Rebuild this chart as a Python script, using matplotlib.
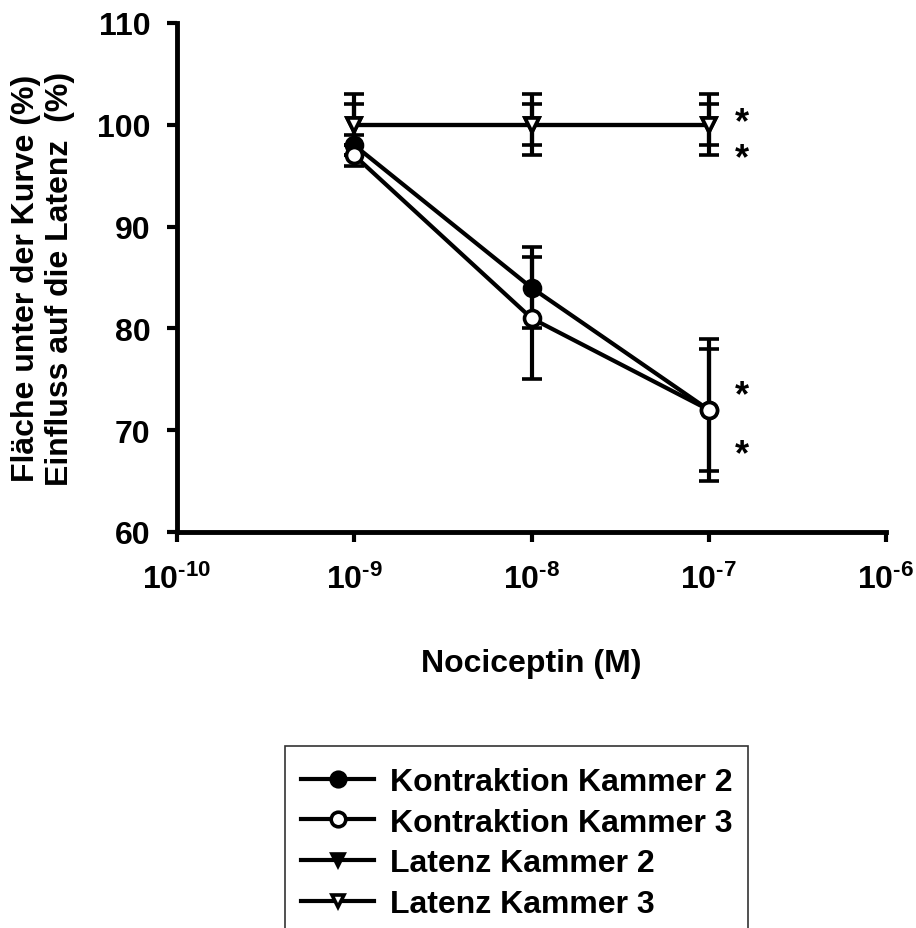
import matplotlib
matplotlib.use("Agg")
import matplotlib.pyplot as plt
from matplotlib.lines import Line2D
from matplotlib.patches import Rectangle

plt.rcParams['font.family'] = ['Liberation Sans', 'DejaVu Sans']
plt.rcParams['font.weight'] = 'bold'
plt.rcParams['mathtext.fontset'] = 'custom'
plt.rcParams['mathtext.rm'] = 'Liberation Sans:bold'
plt.rcParams['mathtext.bf'] = 'Liberation Sans:bold'
plt.rcParams['mathtext.default'] = 'bf'

# Nociceptin concentrations (M)
conc = [1e-9, 1e-8, 1e-7]

# Contraction (area under curve, %) and latency (%), mean and error
kontr_k2 = [98, 84, 72]
kontr_k2_err = [1, 4, 7]
kontr_k3 = [97, 81, 72]
kontr_k3_err = [1, 6, 6]
lat_k2 = [100, 100, 100]
lat_k2_err = [3, 3, 3]
lat_k3 = [100, 100, 100]
lat_k3_err = [2, 2, 2]

labels = ["Kontraktion Kammer 2", "Kontraktion Kammer 3",
          "Latenz Kammer 2", "Latenz Kammer 3"]

x_ticks = [1e-10, 1e-9, 1e-8, 1e-7, 1e-6]
x_ticklabels = [r"$10^{\text{-}10}$", r"$10^{\text{-}9}$", r"$10^{\text{-}8}$",
                r"$10^{\text{-}7}$", r"$10^{\text{-}6}$"]
y_ticks = [60, 70, 80, 90, 100, 110]

FS = 23
W, H = 916, 929

fig = plt.figure(figsize=(W / 100, H / 100), dpi=100)
ax = fig.add_axes([177 / W, 1 - 533 / H, (886 - 177) / W, (533 - 24) / H])

lw = 3.0
TRI = 9.5
CIR = 11.5
styles = [
    (lat_k2, lat_k2_err, dict(marker='v', mfc='black', ms=TRI)),
    (lat_k3, lat_k3_err, dict(marker='v', mfc='white', ms=TRI)),
    (kontr_k2, kontr_k2_err, dict(marker='o', mfc='black', ms=CIR)),
    (kontr_k3, kontr_k3_err, dict(marker='o', mfc='white', ms=CIR)),
]
for vals, errs, st in styles:
    ax.errorbar(conc, vals, yerr=errs, color='black', lw=lw, elinewidth=lw,
                capsize=7, capthick=3.2, mec='black', mew=2.6, **st)

# significance markers at the highest concentration
star_x = 10 ** -6.81
for sy in [100.2, 96.7, 73.4, 67.6]:
    ax.text(star_x, sy, "*", ha='center', va='center', fontsize=26,
            fontweight='bold')

ax.set_xscale('log')
ax.set_xlim(1e-10, 1e-6)
ax.set_ylim(60, 110)
ax.set_xticks(x_ticks)
ax.set_xticklabels(x_ticklabels)
ax.minorticks_off()
ax.set_yticks(y_ticks)
ax.tick_params(axis='both', labelsize=FS, width=3, length=7, direction='out')
ax.tick_params(axis='y', pad=12)
ax.tick_params(axis='x', pad=16)
for s in ['top', 'right']:
    ax.spines[s].set_visible(False)
for s in ['left', 'bottom']:
    ax.spines[s].set_linewidth(3.5)

ax.set_xlabel("Nociceptin (M)", fontsize=FS, fontweight='bold', labelpad=38)
ax.set_ylabel("Fläche unter der Kurve (%)\nEinfluss auf die Latenz  (%)",
              fontsize=FS, fontweight='bold', labelpad=16, linespacing=1.15)

handles = [
    Line2D([], [], color='black', lw=lw, marker='o', mfc='black', mec='black', ms=CIR - 1, mew=2.6),
    Line2D([], [], color='black', lw=lw, marker='o', mfc='white', mec='black', ms=CIR - 1, mew=2.6),
    Line2D([], [], color='black', lw=lw, marker='v', mfc='black', mec='black', ms=TRI - 1, mew=2.6),
    Line2D([], [], color='black', lw=lw, marker='v', mfc='white', mec='black', ms=TRI - 1, mew=2.6),
]
leg = fig.legend(handles, labels, loc='upper left',
                 bbox_to_anchor=(288 / W, 1 - 755 / H),
                 fontsize=FS, frameon=False,
                 handlelength=2.3, handletextpad=0.5, labelspacing=0.34,
                 borderpad=0.4, borderaxespad=0)
for t in leg.get_texts():
    t.set_fontweight('bold')

# legend box, running off the bottom edge of the figure
fig.add_artist(Rectangle((285 / W, -0.05), (748 - 285) / W, (1 - 747 / H) + 0.05,
                         transform=fig.transFigure, fill=False,
                         ec='#333333', lw=1.2))

fig.savefig("out.png", dpi=100)
